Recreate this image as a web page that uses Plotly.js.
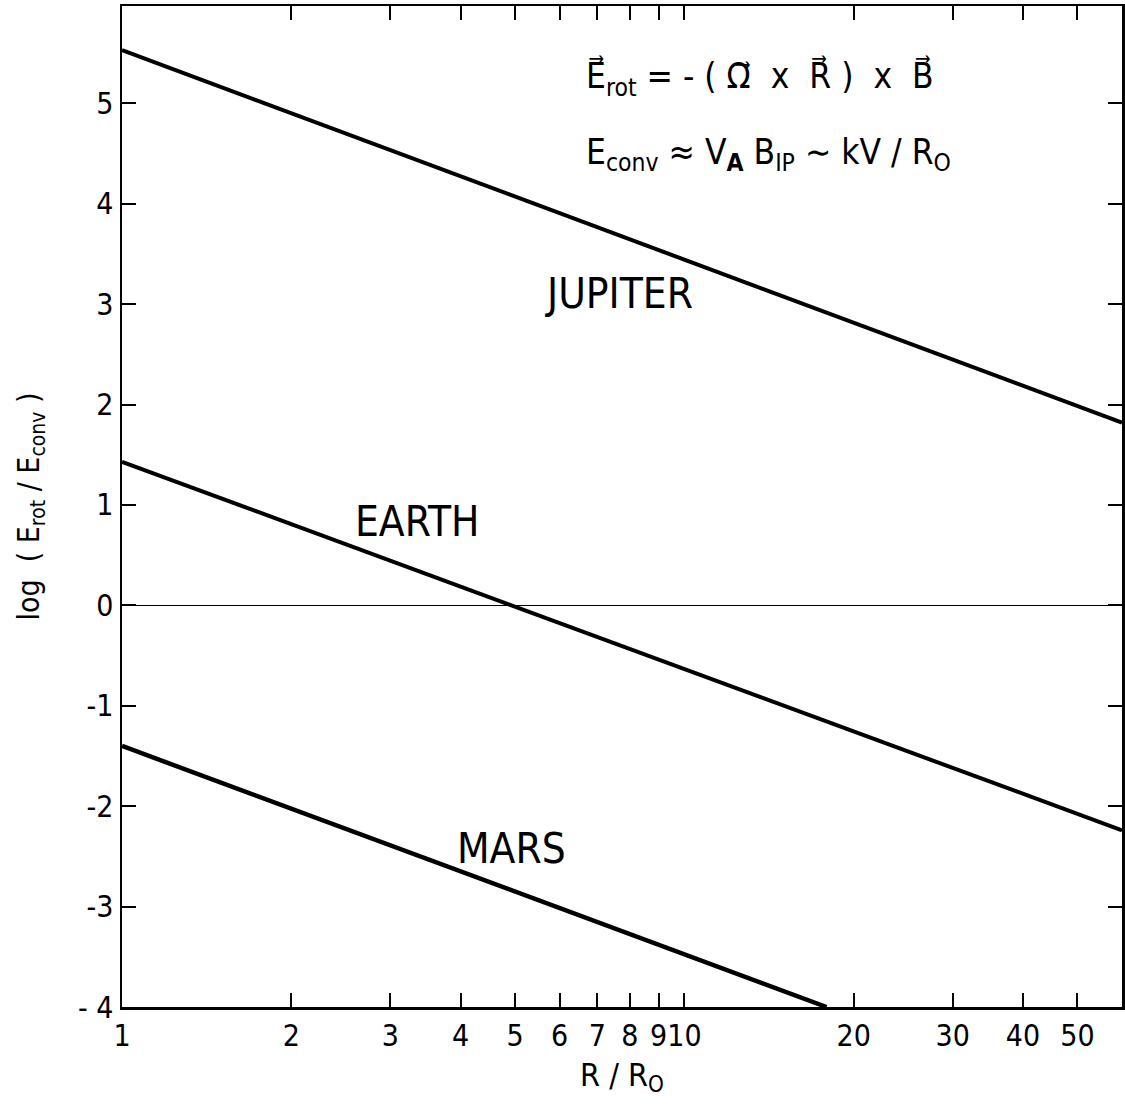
<!DOCTYPE html>
<html>
<head>
<meta charset="utf-8">
<script src="https://cdn.plot.ly/plotly-3.0.1.min.js"></script>
<style>html,body{margin:0;padding:0;background:#fff;}#chart{width:1125px;height:1106px;}</style>
</head>
<body>
<div id="chart"></div>
<script>
// Data
const jupiterR = [1, 60];
const jupiterLog = [5.53, 1.82];
const earthR = [1, 60];
const earthLog = [1.43, -2.24];
const marsR = [1, 17.9];
const marsLog = [-1.40, -4.0];

const xTickVals = [1, 2, 3, 4, 5, 6, 7, 8, 9, 10, 20, 30, 40, 50];
const xTickText = ["1", "2", "3", "4", "5", "6", "7", "8", "9", "10", "20", "30", "40", "50"];
const yTickVals = [-4, -3, -2, -1, 0, 1, 2, 3, 4, 5];
const yTickText = ["- 4", "-3", "-2", "-1", "0", "1", "2", "3", "4", "5"];

const planetLabels = ["JUPITER", "EARTH", "MARS"];
const labelR = [7.66, 3.34, 4.92];
const labelLog = [3.11, 0.84, -2.42];

const FONT = "'DejaVu Sans Condensed', 'Liberation Sans Narrow', 'DejaVu Sans', sans-serif";

const lineStyle = {color: "#000", width: 4};
const traces = [
  {x: jupiterR, y: jupiterLog, mode: "lines", line: lineStyle, name: "Jupiter", hoverinfo: "skip"},
  {x: earthR, y: earthLog, mode: "lines", line: lineStyle, name: "Earth", hoverinfo: "skip"},
  {x: marsR, y: marsLog, mode: "lines", line: {color: "#000", width: 4.5}, name: "Mars", hoverinfo: "skip"}
];

const annotations = planetLabels.map((t, i) => ({
  x: Math.log10(labelR[i]), y: labelLog[i], xref: "x", yref: "y",
  text: t, showarrow: false, font: {family: FONT, size: 42, color: "#000"},
  xanchor: "center", yanchor: "middle"
}));

annotations.push({
  xref: "paper", yref: "paper", x: 0.462, y: 0.928, xanchor: "left", yanchor: "middle",
  text: "E\u20D7<sub>rot</sub> = - ( \u03A9\u20D7  x  R\u20D7 )  x  B\u20D7",
  showarrow: false, font: {family: FONT, size: 35, color: "#000"}
});
annotations.push({
  xref: "paper", yref: "paper", x: 0.462, y: 0.852, xanchor: "left", yanchor: "middle",
  text: "E<sub>conv</sub> \u2248 V<sub><b>A</b></sub> B<sub>IP</sub> \u223C kV / R<sub>O</sub>",
  showarrow: false, font: {family: FONT, size: 35, color: "#000"}
});

const layout = {
  width: 1125, height: 1106,
  margin: {l: 122, r: 3, t: 6, b: 99},
  paper_bgcolor: "#fff", plot_bgcolor: "#fff",
  showlegend: false,
  font: {family: FONT, color: "#000"},
  xaxis: {
    type: "log", range: [0, Math.log10(60)],
    tickvals: xTickVals, ticktext: xTickText, tickangle: 0,
    ticks: "inside", ticklen: 14, tickwidth: 2, tickcolor: "#000",
    showline: true, linecolor: "#000", linewidth: 2.5, mirror: "ticks",
    showgrid: false, zeroline: false,
    tickfont: {family: FONT, size: 30, color: "#000"},
    title: {text: "R / R<sub>O</sub>", font: {family: FONT, size: 32, color: "#000"}, standoff: 12}
  },
  yaxis: {
    range: [-4, 5.97],
    tickvals: yTickVals, ticktext: yTickText,
    ticks: "inside", ticklen: 14, tickwidth: 2, tickcolor: "#000",
    showline: true, linecolor: "#000", linewidth: 2.5, mirror: "ticks",
    showgrid: false, zeroline: true, zerolinecolor: "#000", zerolinewidth: 1.5,
    tickfont: {family: FONT, size: 30, color: "#000"},
    title: {text: "log  ( E<sub>rot</sub> / E<sub>conv</sub> )", font: {family: FONT, size: 30, color: "#000"}, standoff: 30}
  },
  annotations: annotations
};

Plotly.newPlot("chart", traces, layout, {staticPlot: true, displayModeBar: false});
</script>
</body>
</html>
